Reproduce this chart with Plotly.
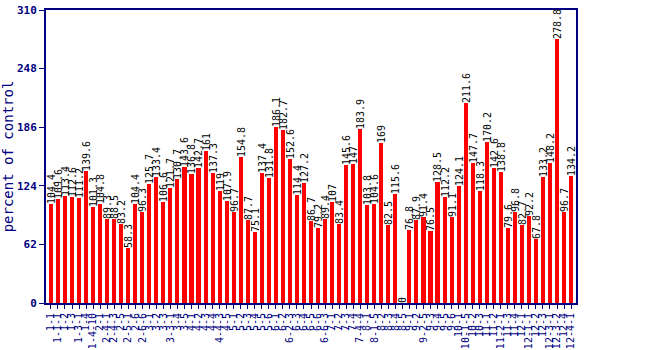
import plotly.graph_objects as go

# Sample labels along the x axis
labels = ["1-1", "1-1-1", "1-2", "1-3", "1-3-1", "1-4", "1-4-10",
          "2-1", "2-4-1", "2-4-3", "2-5", "2-5-1", "2-6", "2-6-6",
          "3-1", "3-2", "3-3", "3-3-1", "3-4", "3-5",
          "4-1", "4-2", "4-3", "4-4", "4-4-3", "4-5",
          "5-1", "5-2", "5-3", "5-4", "5-5", "5-6",
          "6-1", "6-2", "6-2-3", "6-3", "6-4", "6-5", "6-6", "6-6-3",
          "7-1", "7-2", "7-3", "7-4", "7-4-4",
          "8-1", "8-1-5", "8-2", "8-3", "8-4", "8-5",
          "9-1", "9-2", "9-2-5", "9-3", "9-4", "9-5", "9-6",
          "10-1", "10-1-5", "10-2", "10-3",
          "11-1", "11-2", "11-2-1", "11-3", "11-4",
          "12-1", "12-1-1", "12-2", "12-3", "12-3-1", "12-3-2", "12-4", "12-4-1"]

# Percent of control for each sample
values = [104.4, 109.6, 113.4, 112.6, 111.2, 139.6, 101.3, 104.8, 89.3, 88.5,
          83.2, 58.3, 104.4, 96.3, 125.7, 133.4, 106.6, 121.7, 130.7, 143.6,
          136.8, 142.7, 161, 137.3, 119, 107.9, 96.7, 154.8, 87.7, 75.1,
          137.4, 131.8, 186.1, 182.7, 152.6, 114.4, 127.2, 86.7, 79.2, 89.4,
          107, 83.4, 145.6, 147, 183.9, 103.8, 104.6, 169, 82.5, 115.6,
          0, 76.8, 87.9, 91.4, 76.5, 128.5, 112.2, 91.1, 124.1, 211.6,
          147.7, 118.3, 170.2, 142.6, 138.8, 79.6, 96.8, 82.7, 92.2, 67.8,
          133.2, 148.2, 278.8, 96.7, 134.2]

y_ticks = [0, 62, 124, 186, 248, 310]

navy = "#000080"
mono = "DejaVu Sans Mono"

x = list(range(len(values)))

fig = go.Figure(
    go.Bar(
        x=x,
        y=values,
        width=0.58,
        marker=dict(color="#ff0000", line=dict(width=0)),
        text=[f"{v:g}" for v in values],
        textposition="outside",
        textangle=-90,
        constraintext="none",
        cliponaxis=False,
        textfont=dict(family=mono, size=10, color="black"),
        hoverinfo="x+y",
    )
)

fig.update_layout(
    width=650,
    height=350,
    margin=dict(l=46, r=74, t=10, b=47),
    plot_bgcolor="white",
    paper_bgcolor="white",
    showlegend=False,
    bargap=0,
)

fig.update_xaxes(
    automargin=False,
    tickmode="array",
    tickvals=x,
    ticktext=labels,
    tickangle=-90,
    range=[-0.7, len(values) - 0.3],
    showgrid=False,
    showline=True,
    linecolor=navy,
    linewidth=2,
    mirror=True,
    ticks="outside",
    ticklen=4,
    tickcolor=navy,
    tickfont=dict(family=mono, size=10, color=navy),
)

fig.update_yaxes(
    automargin=False,
    range=[0, 310],
    tickmode="array",
    tickvals=y_ticks,
    ticktext=[str(t) for t in y_ticks],
    showgrid=False,
    zeroline=False,
    showline=True,
    linecolor=navy,
    linewidth=2,
    mirror=True,
    ticks="outside",
    ticklen=5,
    tickcolor=navy,
    tickfont=dict(family=mono, size=11, color=navy, weight="bold"),
    title=dict(text="percent of control",
               font=dict(family=mono, size=14, color=navy),
               standoff=4),
)

fig.write_html("out.html")
